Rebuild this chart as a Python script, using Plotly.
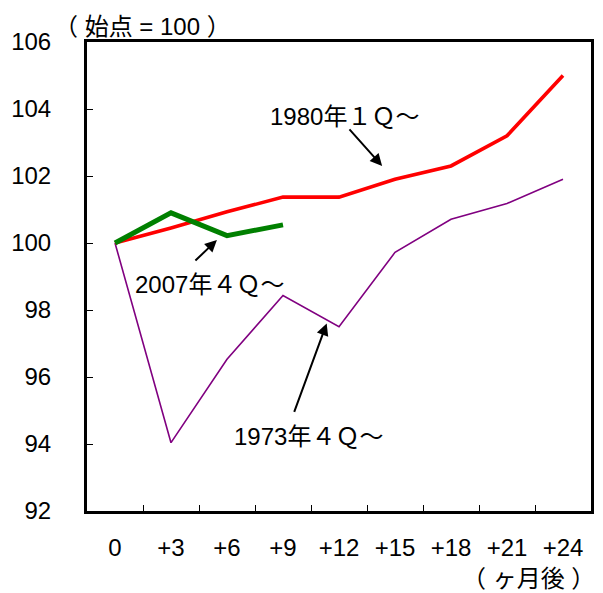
import plotly.graph_objects as go

months = ["0", "+3", "+6", "+9", "+12", "+15", "+18", "+21", "+24"]
s1980 = [100.0, 100.45, 100.93, 101.37, 101.37, 101.9, 102.3, 103.2, 105.0]
s1973 = [100.0, 94.04, 96.53, 98.43, 97.5, 99.72, 100.71, 101.18, 101.9]
s2007 = [100.0, 100.9, 100.22, 100.54]

FONT = "Arial, 'Liberation Sans', 'Noto Sans CJK JP', sans-serif"
FS = 24

fig = go.Figure()
fig.add_trace(go.Scatter(x=months, y=s1973, mode="lines",
                         line=dict(color="#800080", width=1.6), showlegend=False))
fig.add_trace(go.Scatter(x=months, y=s1980, mode="lines",
                         line=dict(color="#ff0000", width=3.6), showlegend=False))
fig.add_trace(go.Scatter(x=months[:len(s2007)], y=s2007, mode="lines",
                         line=dict(color="#008000", width=5), showlegend=False))

ann = [
    # label texts
    dict(x=4.1, y=103.78, text="1980年１Ｑ～", showarrow=False),
    dict(x=1.68, y=98.75, text="2007年４Ｑ～", showarrow=False),
    dict(x=3.46, y=94.21, text="1973年４Ｑ～", showarrow=False),
    # arrows
    dict(x=4.77, y=102.3, ax=-34, ay=-38, text="", showarrow=True,
         arrowhead=2, arrowsize=1.2, arrowwidth=2, arrowcolor="black"),
    dict(x=1.82, y=100.09, ax=-23, ay=22, text="", showarrow=True,
         arrowhead=2, arrowsize=1.2, arrowwidth=2, arrowcolor="black"),
    dict(x=3.78, y=97.6, ax=-33, ay=90, text="", showarrow=True,
         arrowhead=2, arrowsize=1.2, arrowwidth=2, arrowcolor="black"),
    # unit labels
    dict(xref="paper", yref="paper", x=-0.07, y=1.0, xanchor="left", yanchor="bottom",
         text="（ 始点 = 100 ）", showarrow=False, yshift=0),
    dict(xref="paper", yref="paper", x=1.012, y=0, xanchor="right", yanchor="bottom",
         text="（ ヶ月後 ）", showarrow=False, yshift=-83),
]
for a in ann:
    a.setdefault("font", dict(family=FONT, size=FS, color="black"))

fig.update_layout(
    width=595, height=585,
    margin=dict(l=79, r=12, t=34, b=82),
    paper_bgcolor="white", plot_bgcolor="white",
    font=dict(family=FONT, size=FS, color="black"),
    annotations=ann,
    xaxis=dict(type="category", range=[-0.5, 8.5], tickson="boundaries",
               ticks="inside", ticklen=6, tickcolor="black", tickwidth=1,
               showline=True, linecolor="black", linewidth=3, mirror=True,
               showgrid=False, zeroline=False, ticklabelstandoff=13,
               automargin=False),
    yaxis=dict(range=[92, 106], dtick=2, ticks="inside", ticklen=6,
               tickcolor="black", tickwidth=1,
               showline=True, linecolor="black", linewidth=3, mirror=True,
               showgrid=False, zeroline=False, ticklabelstandoff=28,
               automargin=False),
)

fig.write_html("out.html")
